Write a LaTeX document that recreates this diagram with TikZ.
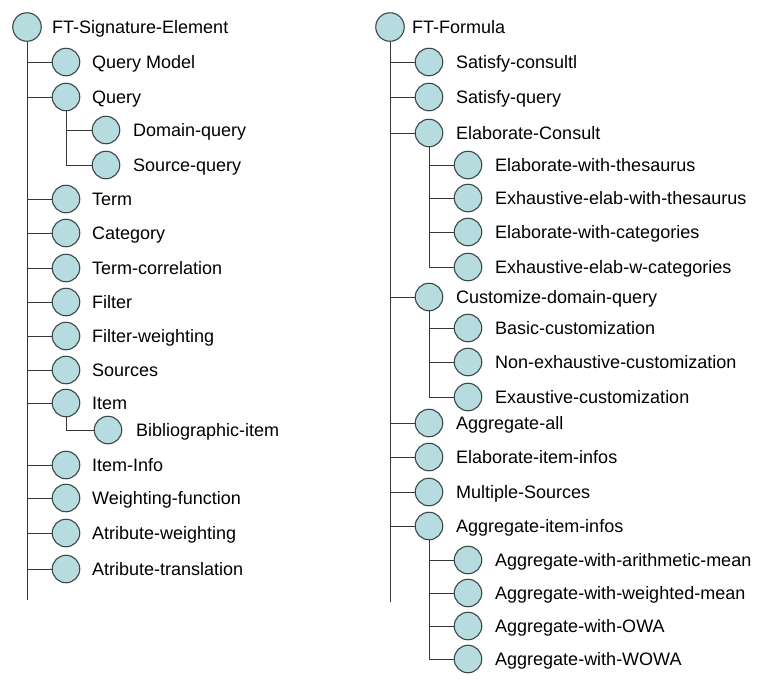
\documentclass[tikz,border=0pt]{standalone}
\usepackage{fontspec}
\setmainfont{Liberation Sans}
\definecolor{bubfill}{RGB}{182,220,223}
\definecolor{bubline}{RGB}{58,72,72}
\definecolor{treeline}{RGB}{55,55,55}
\begin{document}
\begin{tikzpicture}[x=1pt,y=-1pt,
  bub/.style={circle,draw=bubline,fill=bubfill,line width=1.1pt,minimum size=27.5pt,inner sep=0pt},
  rootbub/.style={bub,minimum size=28.5pt},
  lbl/.style={anchor=west,inner sep=0pt,text height=12.8pt,text depth=0pt,font=\fontsize{18}{21}\selectfont},
  branch/.style={draw=treeline,line width=1pt}]
\useasboundingbox[fill=white] (0,0) rectangle (758,689);

% ---- left tree: FT-Signature-Element ----
\node[rootbub] (L) at (27,27) {};
\node[lbl] (Lt) at (52,27) {FT-Signature-Element};
\coordinate (Lend) at (27,600);

\node[bub] (qm)   at (66,62)  {}; \node[lbl] at (92,62)  {Query Model};
\node[bub] (q)    at (66,97)  {}; \node[lbl] at (92,97)  {Query};
\node[bub] (dq)   at (106,130) {}; \node[lbl] at (133,130) {Domain-query};
\node[bub] (sq)   at (106,165) {}; \node[lbl] at (133,165) {Source-query};
\node[bub] (term) at (66,199) {}; \node[lbl] at (92,199) {Term};
\node[bub] (cat)  at (66,233) {}; \node[lbl] at (92,233) {Category};
\node[bub] (tc)   at (66,268) {}; \node[lbl] at (92,268) {Term-correlation};
\node[bub] (fil)  at (66,302) {}; \node[lbl] at (92,302) {Filter};
\node[bub] (fw)   at (66,336) {}; \node[lbl] at (92,336) {Filter-weighting};
\node[bub] (src)  at (66,370) {}; \node[lbl] at (92,370) {Sources};
\node[bub] (item) at (66,403) {}; \node[lbl] at (92,403) {Item};
\node[bub] (bib)  at (108,430) {}; \node[lbl] at (136,430) {Bibliographic-item};
\node[bub] (ii)   at (66,465) {}; \node[lbl] at (92,465) {Item-Info};
\node[bub] (wf)   at (66,498) {}; \node[lbl] at (92,498) {Weighting-function};
\node[bub] (aw)   at (66,533) {}; \node[lbl] at (92,533) {Atribute-weighting};
\node[bub] (at)   at (66,569) {}; \node[lbl] at (92,569) {Atribute-translation};

\path[branch] (L.south) -- (Lend);
\foreach \n in {qm,q,term,cat,tc,fil,fw,src,item,ii,wf,aw,at}
  \path[branch] (L |- \n) -- (\n.west);
\path[branch] (q.south) |- (sq.west);
\path[branch] (q |- dq) -- (dq.west);
\path[branch] (item.south) |- (bib.west);

% ---- right tree: FT-Formula ----
\node[rootbub] (R) at (390,27) {};
\node[lbl] (Rt) at (412,27) {FT-Formula};
\coordinate (Rend) at (390,602);

\node[bub] (s1)  at (429,62)  {}; \node[lbl] at (456,62)  {Satisfy-consultl};
\node[bub] (s2)  at (429,97)  {}; \node[lbl] at (456,97)  {Satisfy-query};
\node[bub] (ec)  at (429,133) {}; \node[lbl] at (456,133) {Elaborate-Consult};
\node[bub] (e1)  at (468,165) {}; \node[lbl] at (495,165) {Elaborate-with-thesaurus};
\node[bub] (e2)  at (468,198) {}; \node[lbl] at (495,198) {Exhaustive-elab-with-thesaurus};
\node[bub] (e3)  at (468,232) {}; \node[lbl] at (495,232) {Elaborate-with-categories};
\node[bub] (e4)  at (468,267) {}; \node[lbl] at (495,267) {Exhaustive-elab-w-categories};
\node[bub] (cdq) at (429,297) {}; \node[lbl] at (456,297) {Customize-domain-query};
\node[bub] (c1)  at (468,328) {}; \node[lbl] at (495,328) {Basic-customization};
\node[bub] (c2)  at (468,362) {}; \node[lbl] at (495,362) {Non-exhaustive-customization};
\node[bub] (c3)  at (468,397) {}; \node[lbl] at (495,397) {Exaustive-customization};
\node[bub] (aa)  at (429,423) {}; \node[lbl] at (456,423) {Aggregate-all};
\node[bub] (eii) at (429,457) {}; \node[lbl] at (456,457) {Elaborate-item-infos};
\node[bub] (ms)  at (429,492) {}; \node[lbl] at (456,492) {Multiple-Sources};
\node[bub] (aii) at (429,526) {}; \node[lbl] at (456,526) {Aggregate-item-infos};
\node[bub] (a1)  at (468,560) {}; \node[lbl] at (495,560) {Aggregate-with-arithmetic-mean};
\node[bub] (a2)  at (468,593) {}; \node[lbl] at (495,593) {Aggregate-with-weighted-mean};
\node[bub] (a3)  at (468,626) {}; \node[lbl] at (495,626) {Aggregate-with-OWA};
\node[bub] (a4)  at (468,659) {}; \node[lbl] at (495,659) {Aggregate-with-WOWA};

\path[branch] (R.south) -- (Rend);
\foreach \n in {s1,s2,ec,cdq,aa,eii,ms,aii}
  \path[branch] (R |- \n) -- (\n.west);
\path[branch] (ec.south) |- (e4.west);
\foreach \n in {e1,e2,e3}
  \path[branch] (ec |- \n) -- (\n.west);
\path[branch] (cdq.south) |- (c3.west);
\foreach \n in {c1,c2}
  \path[branch] (cdq |- \n) -- (\n.west);
\path[branch] (aii.south) |- (a4.west);
\foreach \n in {a1,a2,a3}
  \path[branch] (aii |- \n) -- (\n.west);
\end{tikzpicture}
\end{document}
